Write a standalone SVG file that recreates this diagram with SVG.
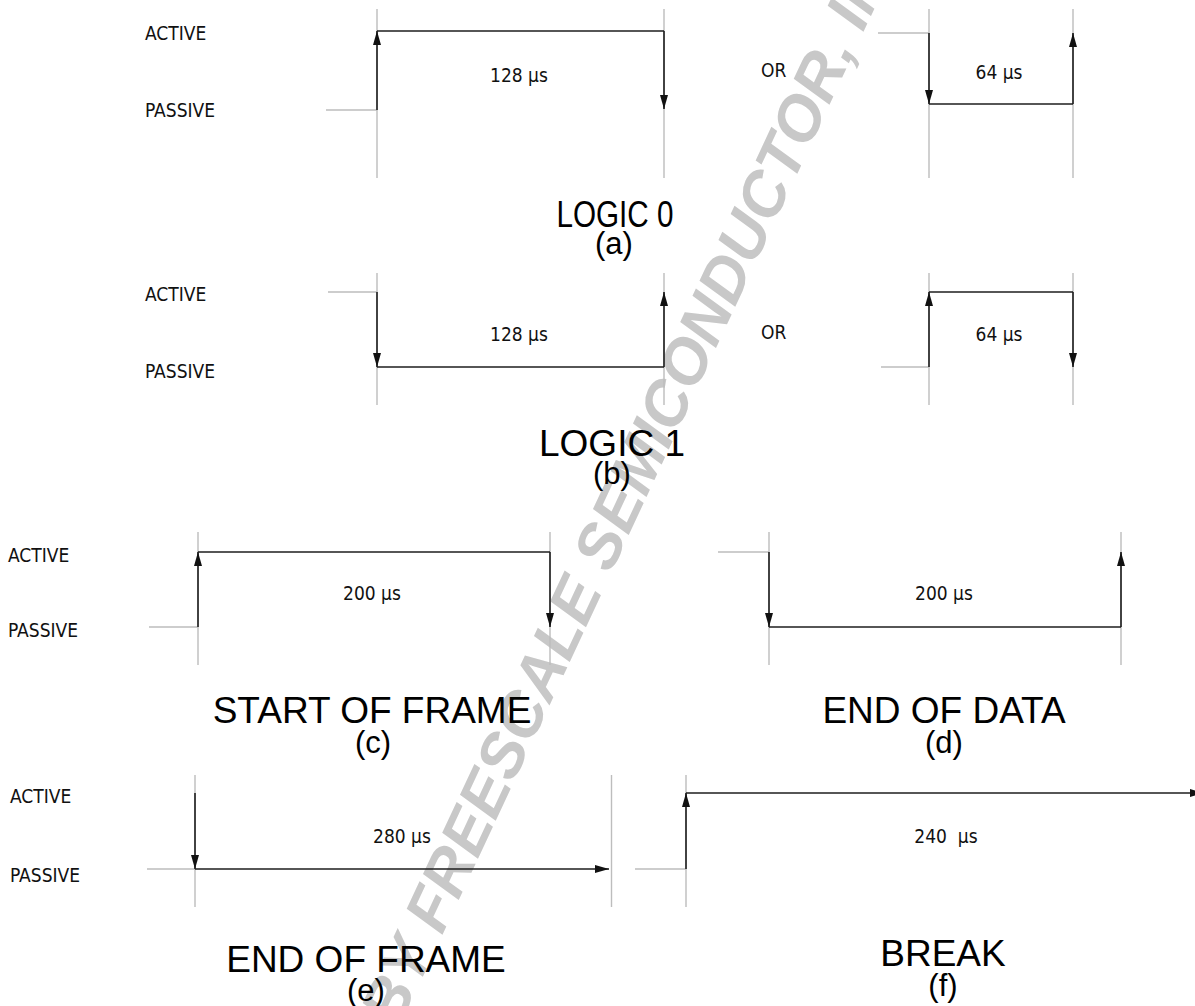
<svg xmlns="http://www.w3.org/2000/svg" width="1195" height="1006" viewBox="0 0 1195 1006">
  <style>
    .guide { stroke: #bdbdbd; stroke-width: 1.4; fill: none; }
    .wave { stroke: #1e1e1e; stroke-width: 1.6; fill: none; }
    .arr { marker-end: url(#ah); }
    .lbl { font-family: "DejaVu Sans Condensed", "DejaVu Sans", "Liberation Sans", sans-serif; font-stretch: semi-condensed; font-size: 19px; fill: #111; }
    .mid { text-anchor: middle; }
    .big { font-family: "Liberation Sans", Arial, sans-serif; font-size: 37px; fill: #000; text-anchor: middle; }
    .sub { font-family: "Liberation Sans", Arial, sans-serif; font-size: 31px; fill: #000; text-anchor: middle; }
    .wm { font-family: "Liberation Sans", Arial, sans-serif; font-size: 63px; font-weight: bold; font-style: italic; fill: #c8c8c8; }
  </style>
  <defs>
    <marker id="ah" markerUnits="userSpaceOnUse" markerWidth="14" markerHeight="8" refX="14" refY="4" orient="auto">
      <path d="M0,0 L14,4 L0,8 Z" fill="#111"/>
    </marker>
  </defs>
  <rect width="1195" height="1006" fill="#fff"/>

  <!-- watermark -->
  <text class="wm" x="398" y="1030" transform="rotate(-65 398 1030)">BY FREESCALE SEMICONDUCTOR, INC.</text>

  <!-- (a) LOGIC 0 -->
  <g id="panel-a">
    <text class="lbl" x="145" y="40">ACTIVE</text>
    <text class="lbl" x="145" y="117">PASSIVE</text>
    <path class="guide" d="M377,9 V178 M664,9 V178 M326,110 H377"/>
    <path class="guide" d="M929,9 V178 M1073,9 V178 M878,33 H929"/>
    <text class="lbl mid" x="519" y="82">128 µs</text>
    <text class="lbl" x="761" y="77">OR</text>
    <text class="lbl mid" x="999" y="79">64 µs</text>
    <text class="big" x="615" y="227" textLength="117" lengthAdjust="spacingAndGlyphs">LOGIC 0</text>
    <text class="sub" x="614" y="254">(a)</text>
  </g>

  <!-- (b) LOGIC 1 -->
  <g id="panel-b">
    <text class="lbl" x="145" y="301">ACTIVE</text>
    <text class="lbl" x="145" y="378">PASSIVE</text>
    <path class="guide" d="M377,273 V405 M664,273 V405 M328,292 H377"/>
    <path class="guide" d="M929,273 V405 M1073,273 V405 M881,367 H929"/>
    <text class="lbl mid" x="519" y="341">128 µs</text>
    <text class="lbl" x="761" y="339">OR</text>
    <text class="lbl mid" x="999" y="341">64 µs</text>
    <text class="big" x="612" y="456">LOGIC 1</text>
    <text class="sub" x="612" y="484">(b)</text>
  </g>

  <!-- (c) START OF FRAME -->
  <g id="panel-c">
    <text class="lbl" x="8" y="562">ACTIVE</text>
    <text class="lbl" x="8" y="637">PASSIVE</text>
    <path class="guide" d="M198,532 V665 M550,532 V665 M149,627 H198"/>
    <text class="lbl mid" x="372" y="600">200 µs</text>
    <text class="big" x="372" y="723">START OF FRAME</text>
    <text class="sub" x="373" y="753">(c)</text>
  </g>

  <!-- (d) END OF DATA -->
  <g id="panel-d">
    <path class="guide" d="M769,532 V665 M1121,532 V665 M718,552 H769"/>
    <text class="lbl mid" x="944" y="600">200 µs</text>
    <text class="big" x="944" y="723">END OF DATA</text>
    <text class="sub" x="944" y="753">(d)</text>
  </g>

  <!-- (e) END OF FRAME -->
  <g id="panel-e">
    <text class="lbl" x="10" y="803">ACTIVE</text>
    <text class="lbl" x="10" y="882">PASSIVE</text>
    <path class="guide" d="M195,775 V907 M611.5,775 V907 M147,869 H195"/>
    <text class="lbl mid" x="402" y="843">280 µs</text>
    <text class="big" x="366" y="972">END OF FRAME</text>
    <text class="sub" x="366" y="1001">(e)</text>
  </g>

  <!-- (f) BREAK -->
  <g id="panel-f">
    <path class="guide" d="M686,775 V907 M635,869 H686"/>
    <text class="lbl mid" x="946" y="843" style="white-space:pre">240  µs</text>
    <text class="big" x="943" y="966">BREAK</text>
    <text class="sub" x="943" y="996">(f)</text>
  </g>

  <!-- waveform connectors -->
  <g id="connectors">
    <path class="wave arr" d="M377,110 V31"/>
    <path class="wave" d="M377,31 H664"/>
    <path class="wave arr" d="M664,31 V109"/>

    <path class="wave arr" d="M929,33 V104"/>
    <path class="wave" d="M929,104 H1073"/>
    <path class="wave arr" d="M1073,104 V33"/>

    <path class="wave arr" d="M377,292 V367"/>
    <path class="wave" d="M377,367 H664"/>
    <path class="wave arr" d="M664,367 V292"/>

    <path class="wave arr" d="M929,367 V292"/>
    <path class="wave" d="M929,292 H1073"/>
    <path class="wave arr" d="M1073,292 V367"/>

    <path class="wave arr" d="M198,627 V552"/>
    <path class="wave" d="M198,552 H550"/>
    <path class="wave arr" d="M550,552 V627"/>

    <path class="wave arr" d="M769,552 V627"/>
    <path class="wave" d="M769,627 H1121"/>
    <path class="wave arr" d="M1121,627 V552"/>

    <path class="wave arr" d="M195,793 V869"/>
    <path class="wave arr" d="M195,869 H609"/>

    <path class="wave arr" d="M686,869 V793"/>
    <path class="wave arr" d="M686,793 H1204"/>
  </g>
</svg>
